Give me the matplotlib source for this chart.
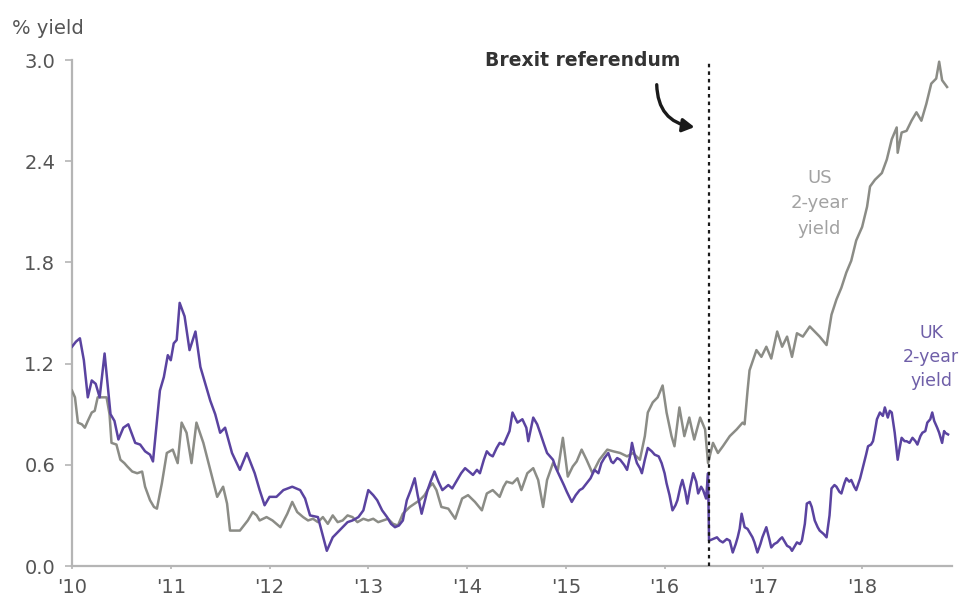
import matplotlib
matplotlib.use("Agg")
import matplotlib.pyplot as plt

# ---------------- data ----------------
uk_t = [2010.00, 2010.04, 2010.08, 2010.12, 2010.16, 2010.20, 2010.24, 2010.28, 2010.33, 2010.39,
        2010.43, 2010.47, 2010.52, 2010.57, 2010.64, 2010.69, 2010.74, 2010.79, 2010.82, 2010.89,
        2010.93, 2010.97, 2011.00, 2011.03, 2011.06, 2011.09, 2011.14, 2011.19, 2011.25, 2011.30,
        2011.35, 2011.40, 2011.45, 2011.50, 2011.55, 2011.62, 2011.70, 2011.77, 2011.85, 2011.90,
        2011.95, 2012.00, 2012.07, 2012.14, 2012.23, 2012.31, 2012.36, 2012.41, 2012.49, 2012.53,
        2012.58, 2012.64, 2012.69, 2012.74, 2012.79, 2012.84, 2012.90, 2012.95, 2013.00, 2013.05,
        2013.09, 2013.14, 2013.19, 2013.23, 2013.27, 2013.31, 2013.35, 2013.39, 2013.43, 2013.47,
        2013.50, 2013.54, 2013.57, 2013.60, 2013.63, 2013.67, 2013.71, 2013.75, 2013.81, 2013.85,
        2013.90, 2013.94, 2013.98, 2014.02, 2014.06, 2014.10, 2014.13, 2014.17, 2014.20, 2014.23,
        2014.26, 2014.30, 2014.33, 2014.37, 2014.40, 2014.43, 2014.46, 2014.51, 2014.56, 2014.60,
        2014.62, 2014.67, 2014.71, 2014.74, 2014.78, 2014.81, 2014.87, 2014.90, 2014.94, 2014.98,
        2015.01, 2015.06, 2015.10, 2015.14, 2015.17, 2015.21, 2015.25, 2015.29, 2015.33, 2015.36,
        2015.39, 2015.43, 2015.46, 2015.48, 2015.52, 2015.55, 2015.59, 2015.62, 2015.65, 2015.67,
        2015.70, 2015.72, 2015.75, 2015.77, 2015.80, 2015.83, 2015.87, 2015.90, 2015.94, 2015.97,
        2016.00, 2016.02, 2016.05, 2016.08, 2016.11, 2016.13, 2016.16, 2016.18, 2016.21, 2016.23,
        2016.26, 2016.29, 2016.32, 2016.34, 2016.37, 2016.39, 2016.42, 2016.44, 2016.45, 2016.49,
        2016.53, 2016.56, 2016.59, 2016.63, 2016.66, 2016.69, 2016.72, 2016.74, 2016.76, 2016.78,
        2016.81, 2016.84, 2016.86, 2016.89, 2016.91, 2016.94, 2016.97, 2016.99, 2017.03, 2017.06,
        2017.08, 2017.11, 2017.14, 2017.17, 2017.19, 2017.22, 2017.24, 2017.27, 2017.29, 2017.32,
        2017.34, 2017.37, 2017.39, 2017.42, 2017.44, 2017.47, 2017.49, 2017.52, 2017.55, 2017.57,
        2017.61, 2017.64, 2017.67, 2017.69, 2017.72, 2017.74, 2017.77, 2017.79, 2017.82, 2017.84,
        2017.87, 2017.89, 2017.92, 2017.94, 2017.98, 2018.01, 2018.04, 2018.06, 2018.09, 2018.11,
        2018.13, 2018.15, 2018.18, 2018.21, 2018.23, 2018.26, 2018.28, 2018.30, 2018.33, 2018.36,
        2018.38, 2018.40, 2018.43, 2018.45, 2018.48, 2018.51, 2018.54, 2018.56, 2018.59, 2018.61,
        2018.64, 2018.66, 2018.69, 2018.71, 2018.73, 2018.76, 2018.78, 2018.81, 2018.83, 2018.84,
        2018.87]
uk_v = [1.30, 1.33, 1.35, 1.22, 1.00, 1.10, 1.08, 1.00, 1.26, 0.90,
        0.86, 0.75, 0.82, 0.84, 0.73, 0.72, 0.68, 0.66, 0.62, 1.04,
        1.12, 1.25, 1.22, 1.32, 1.34, 1.56, 1.48, 1.28, 1.39, 1.18,
        1.08, 0.98, 0.90, 0.79, 0.82, 0.67, 0.57, 0.67, 0.55, 0.45,
        0.36, 0.41, 0.41, 0.45, 0.47, 0.45, 0.40, 0.30, 0.29, 0.20,
        0.09, 0.17, 0.20, 0.23, 0.26, 0.27, 0.29, 0.33, 0.45, 0.42,
        0.39, 0.33, 0.29, 0.25, 0.23, 0.24, 0.27, 0.39, 0.45, 0.52,
        0.42, 0.31, 0.38, 0.45, 0.50, 0.56, 0.50, 0.45, 0.48, 0.46,
        0.51, 0.55, 0.58, 0.56, 0.54, 0.57, 0.55, 0.63, 0.68, 0.66,
        0.65, 0.70, 0.73, 0.72, 0.76, 0.80, 0.91, 0.85, 0.87, 0.82,
        0.74, 0.88, 0.84, 0.79, 0.72, 0.67, 0.63, 0.58, 0.53, 0.48,
        0.44, 0.38, 0.42, 0.45, 0.46, 0.49, 0.52, 0.57, 0.55, 0.61,
        0.64, 0.67, 0.62, 0.61, 0.64, 0.63, 0.60, 0.57, 0.65, 0.73,
        0.65, 0.61, 0.58, 0.55, 0.63, 0.70, 0.68, 0.66, 0.65, 0.61,
        0.55, 0.49, 0.42, 0.33, 0.36, 0.39, 0.47, 0.51, 0.44, 0.37,
        0.47, 0.55, 0.50, 0.43, 0.47, 0.45, 0.40, 0.55, 0.15, 0.16,
        0.17, 0.15, 0.14, 0.16, 0.15, 0.08, 0.13, 0.17, 0.22, 0.31,
        0.23, 0.22, 0.20, 0.17, 0.14, 0.08, 0.13, 0.17, 0.23, 0.16,
        0.11, 0.13, 0.14, 0.16, 0.17, 0.14, 0.12, 0.11, 0.09, 0.12,
        0.14, 0.13, 0.15, 0.25, 0.37, 0.38, 0.35, 0.27, 0.23, 0.21,
        0.19, 0.17, 0.30, 0.46, 0.48, 0.47, 0.44, 0.43, 0.49, 0.52,
        0.50, 0.51, 0.47, 0.45, 0.52, 0.59, 0.66, 0.71, 0.72, 0.74,
        0.80, 0.87, 0.91, 0.89, 0.94, 0.88, 0.92, 0.91, 0.79, 0.63,
        0.70, 0.76, 0.74, 0.74, 0.73, 0.76, 0.74, 0.72, 0.77, 0.79,
        0.80, 0.85, 0.87, 0.91, 0.86, 0.82, 0.79, 0.73, 0.80, 0.79,
        0.78]

us_t = [2010.00, 2010.03, 2010.06, 2010.10, 2010.13, 2010.16, 2010.20, 2010.23, 2010.26, 2010.30,
        2010.35, 2010.38, 2010.40, 2010.45, 2010.49, 2010.53, 2010.56, 2010.61, 2010.66, 2010.71,
        2010.74, 2010.79, 2010.83, 2010.86, 2010.91, 2010.96, 2011.02, 2011.07, 2011.11, 2011.16,
        2011.21, 2011.26, 2011.33, 2011.40, 2011.47, 2011.53, 2011.57, 2011.60, 2011.65, 2011.70,
        2011.74, 2011.78, 2011.83, 2011.87, 2011.90, 2011.97, 2012.03, 2012.11, 2012.18, 2012.23,
        2012.28, 2012.34, 2012.39, 2012.44, 2012.49, 2012.54, 2012.59, 2012.64, 2012.69, 2012.74,
        2012.79, 2012.84, 2012.89, 2012.95, 2013.00, 2013.05, 2013.10, 2013.15, 2013.20, 2013.25,
        2013.30, 2013.35, 2013.42, 2013.47, 2013.52, 2013.57, 2013.62, 2013.65, 2013.69, 2013.74,
        2013.81, 2013.88, 2013.95, 2014.01, 2014.08, 2014.15, 2014.20, 2014.26, 2014.33, 2014.37,
        2014.40, 2014.46, 2014.51, 2014.55, 2014.61, 2014.67, 2014.72, 2014.77, 2014.81, 2014.87,
        2014.92, 2014.97, 2015.02, 2015.07, 2015.11, 2015.16, 2015.21, 2015.27, 2015.34, 2015.42,
        2015.48, 2015.55, 2015.62, 2015.68, 2015.75, 2015.80, 2015.83, 2015.88, 2015.93, 2015.98,
        2016.02, 2016.07, 2016.10, 2016.15, 2016.20, 2016.25, 2016.30, 2016.36, 2016.41, 2016.44,
        2016.49, 2016.54, 2016.59, 2016.66, 2016.73, 2016.79, 2016.81, 2016.84, 2016.86, 2016.93,
        2016.98, 2017.03, 2017.08, 2017.14, 2017.19, 2017.24, 2017.29, 2017.34, 2017.40, 2017.47,
        2017.57, 2017.64, 2017.69, 2017.74, 2017.79, 2017.84, 2017.89, 2017.94, 2018.00, 2018.05,
        2018.08, 2018.13, 2018.20, 2018.25, 2018.30, 2018.35, 2018.36, 2018.40, 2018.45, 2018.50,
        2018.55, 2018.60, 2018.65, 2018.70, 2018.75, 2018.78, 2018.81, 2018.86]
us_v = [1.04, 1.00, 0.85, 0.84, 0.82, 0.86, 0.91, 0.92, 1.00, 1.00,
        1.00, 0.90, 0.73, 0.72, 0.63, 0.61, 0.59, 0.56, 0.55, 0.56,
        0.47, 0.39, 0.35, 0.34, 0.49, 0.67, 0.69, 0.61, 0.85, 0.79,
        0.61, 0.85, 0.73, 0.57, 0.41, 0.47, 0.37, 0.21, 0.21, 0.21,
        0.24, 0.27, 0.32, 0.30, 0.27, 0.29, 0.27, 0.23, 0.31, 0.38,
        0.32, 0.29, 0.27, 0.28, 0.26, 0.29, 0.25, 0.30, 0.26, 0.27,
        0.30, 0.29, 0.26, 0.28, 0.27, 0.28, 0.26, 0.27, 0.28, 0.25,
        0.24, 0.31, 0.35, 0.37, 0.39, 0.42, 0.47, 0.49, 0.45, 0.35,
        0.34, 0.28, 0.40, 0.42, 0.38, 0.33, 0.43, 0.45, 0.41, 0.47,
        0.50, 0.49, 0.52, 0.45, 0.55, 0.58, 0.51, 0.35, 0.51, 0.61,
        0.57, 0.76, 0.53, 0.59, 0.62, 0.69, 0.63, 0.55, 0.63, 0.69,
        0.68, 0.67, 0.65, 0.67, 0.63, 0.77, 0.91, 0.97, 1.00, 1.07,
        0.91, 0.77, 0.71, 0.94, 0.77, 0.88, 0.75, 0.88, 0.81, 0.61,
        0.73, 0.67, 0.71, 0.77, 0.81, 0.85, 0.84, 1.04, 1.16, 1.28,
        1.24, 1.30, 1.23, 1.39, 1.30, 1.36, 1.24, 1.38, 1.36, 1.42,
        1.36, 1.31, 1.49, 1.58, 1.65, 1.74, 1.81, 1.93, 2.01, 2.13,
        2.25, 2.29, 2.33, 2.41, 2.53, 2.60, 2.45, 2.57, 2.58, 2.64,
        2.69, 2.64, 2.74, 2.86, 2.89, 2.99, 2.88, 2.84]

brexit_date = 2016.45
year_ticks = [2010, 2011, 2012, 2013, 2014, 2015, 2016, 2017, 2018]
year_labels = ["'10", "'11", "'12", "'13", "'14", "'15", "'16", "'17", "'18"]
yield_ticks = [0.0, 0.6, 1.2, 1.8, 2.4, 3.0]

# ---------------- figure ----------------
plt.rcParams['font.family'] = ['DejaVu Sans']
W, H = 961, 603
fig = plt.figure(figsize=(W / 100, H / 100), dpi=100)
ax = fig.add_axes([72 / W, 1 - 566 / H, (952 - 72) / W, (566 - 60) / H])

US_COLOR = '#8b8c86'
UK_COLOR = '#5a43a0'
AXIS_COLOR = '#b5b5b5'
TEXT_COLOR = '#555555'

ax.plot(us_t, us_v, color=US_COLOR, lw=1.8, solid_joinstyle='round', zorder=3)
ax.plot(uk_t, uk_v, color=UK_COLOR, lw=1.8, solid_joinstyle='round', zorder=4)

ax.plot([brexit_date, brexit_date], [0, 3.0], color='#1a1a1a', lw=1.6,
        linestyle=(0, (1.6, 1.8)), zorder=5, clip_on=False)

ax.set_xlim(2010, 2018.91)
ax.set_ylim(0, 3.0)

for s in ['top', 'right']:
    ax.spines[s].set_visible(False)
for s in ['left', 'bottom']:
    ax.spines[s].set_color(AXIS_COLOR)
    ax.spines[s].set_linewidth(1.6)

ax.set_yticks(yield_ticks)
ax.set_yticklabels([f"{v:.1f}" for v in yield_ticks])
ax.set_xticks(year_ticks)
ax.set_xticklabels(year_labels)
ax.tick_params(axis='y', direction='out', length=5, width=1.2, color=AXIS_COLOR,
               labelsize=14, labelcolor=TEXT_COLOR, pad=7)
ax.tick_params(axis='x', direction='out', length=2.5, width=1.2, color=AXIS_COLOR,
               labelsize=14, labelcolor=TEXT_COLOR, pad=6)

fig.text(12 / W, 1 - 29 / H, '% yield', fontsize=14, color=TEXT_COLOR,
         ha='left', va='center')

ax.text(2015.17, 3.0, 'Brexit referendum', fontsize=13.5, fontweight='bold',
        color='#333333', ha='center', va='center')
ax.annotate('', xy=(2016.33, 2.60), xytext=(2015.92, 2.87),
            arrowprops=dict(arrowstyle='-|>,head_length=0.7,head_width=0.4',
                            color='#1a1a1a', lw=2.4,
                            connectionstyle='arc3,rad=0.45'))

ax.text(2017.57, 2.15, 'US\n2-year\nyield', fontsize=13, color='#a2a2a2',
        ha='center', va='center', linespacing=1.55)
ax.text(2018.70, 1.24, 'UK\n2-year\nyield', fontsize=12.5, color='#6f5fa8',
        ha='center', va='center', linespacing=1.45)

fig.savefig('out.png', dpi=100, facecolor='white')
